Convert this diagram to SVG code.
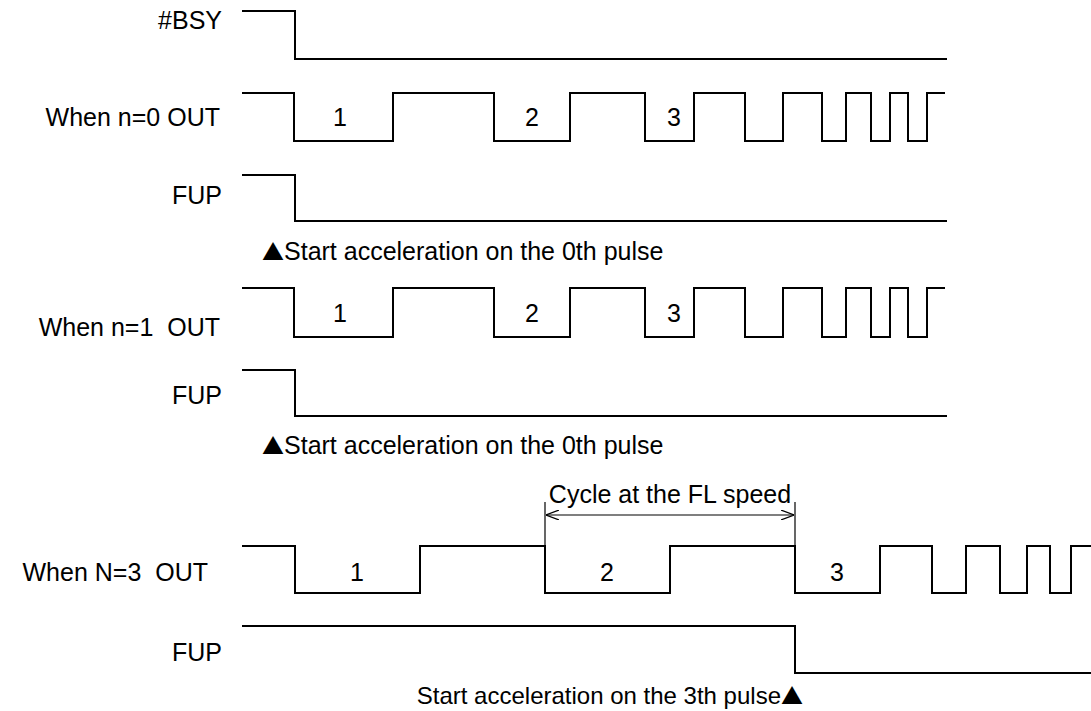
<svg xmlns="http://www.w3.org/2000/svg" width="1091" height="711" viewBox="0 0 1091 711">
<style>
text{font-family:"Liberation Sans",Arial,"DejaVu Sans",sans-serif;font-size:25px;fill:#000;white-space:pre}
.tri{font-family:"Noto Sans CJK JP","DejaVu Sans",sans-serif;font-size:22px}
.lbl{text-anchor:end}
.num{text-anchor:middle}
.small{font-size:24px}
.wave{fill:none;stroke:#000;stroke-width:2;stroke-linejoin:miter;stroke-linecap:square}
.thin{fill:none;stroke:#000;stroke-width:1.2}
</style>
<defs>
<marker id="open" viewBox="0 0 13 10" refX="13" refY="5" markerWidth="13" markerHeight="10" markerUnits="userSpaceOnUse" orient="auto-start-reverse">
<path d="M0,0 L13,5 L0,10" fill="none" stroke="#000" stroke-width="1.2"/>
</marker>
</defs>
<rect width="1091" height="711" fill="#fff"/>
<g id="bsy">
<text class="lbl" x="222" y="29">#BSY</text>
<path class="wave" d="M243,11 H295 V59 H946"/>
</g>
<g id="out0">
<text class="lbl" x="220" y="126">When n=0 OUT</text>
<path class="wave" d="M243,93 H294 V141 H393 V93 H494 V141 H570 V93 H645 V141 H694 V93 H745 V141 H783 V93 H822 V141 H846 V93 H871 V141 H890 V93 H908 V141 H927 V93 H944"/>
<text class="num" x="340" y="126">1</text>
<text class="num" x="532" y="126">2</text>
<text class="num" x="674" y="126">3</text>
</g>
<g id="fup0">
<text class="lbl" x="222" y="204">FUP</text>
<path class="wave" d="M243,175 H295 V221 H946"/>
<text x="262" y="260"><tspan class="tri">▲</tspan>Start acceleration on the 0th pulse</text>
</g>
<g id="out1">
<text class="lbl" x="220" y="336">When n=1  OUT</text>
<path class="wave" d="M243,288 H294 V337 H393 V288 H494 V337 H570 V288 H645 V337 H694 V288 H745 V337 H783 V288 H822 V337 H846 V288 H871 V337 H890 V288 H908 V337 H927 V288 H944"/>
<text class="num" x="340" y="322">1</text>
<text class="num" x="532" y="322">2</text>
<text class="num" x="674" y="322">3</text>
</g>
<g id="fup1">
<text class="lbl" x="222" y="404">FUP</text>
<path class="wave" d="M243,370 H295 V416 H946"/>
<text x="262" y="454"><tspan class="tri">▲</tspan>Start acceleration on the 0th pulse</text>
</g>
<g id="cycle">
<text class="num" x="670" y="503">Cycle at the FL speed</text>
</g>
<g id="connectors">
<path class="thin" d="M545,502 V546"/>
<path class="thin" d="M795,502 V546"/>
<path class="thin" d="M546,515 H794" marker-start="url(#open)" marker-end="url(#open)"/>
</g>
<g id="out3">
<text class="lbl" x="208" y="581">When N=3  OUT</text>
<path class="wave" d="M243,546 H295 V593 H420 V546 H545 V593 H670 V546 H795 V593 H880 V546 H932 V593 H966 V546 H1000 V593 H1027 V546 H1050 V593 H1071 V546 H1091"/>
<text class="num" x="357" y="581">1</text>
<text class="num" x="607" y="581">2</text>
<text class="num" x="837" y="581">3</text>
</g>
<g id="fup3">
<text class="lbl" x="222" y="661">FUP</text>
<path class="wave" d="M243,626 H795 V673 H1091"/>
<text class="lbl small" x="803" y="704">Start acceleration on the 3th pulse<tspan class="tri">▲</tspan></text>
</g>
</svg>
